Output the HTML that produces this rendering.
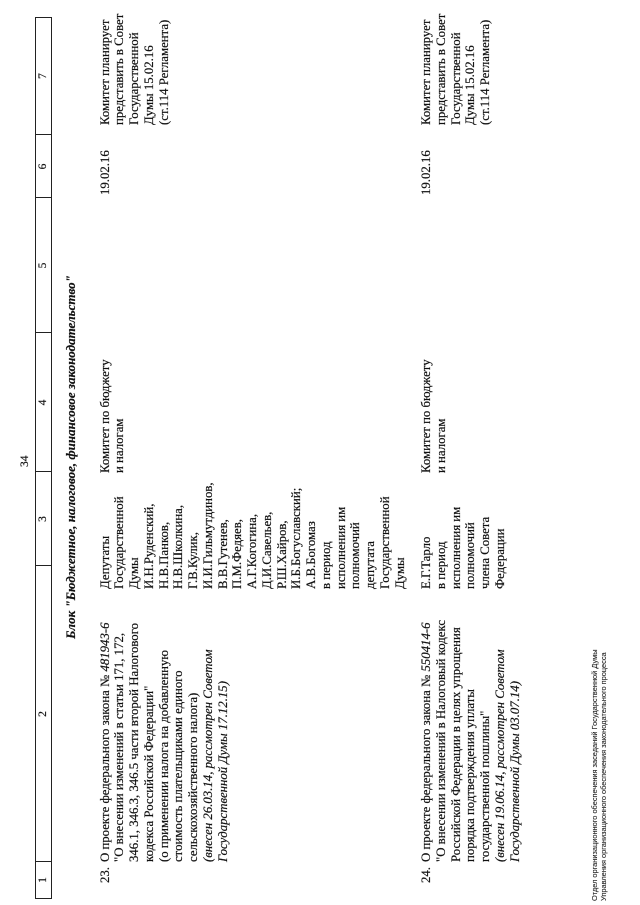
<!DOCTYPE html>
<html><head><meta charset="utf-8">
<style>
html,body{margin:0;padding:0;background:#fff;}
body{width:640px;height:905px;overflow:hidden;position:relative;}
#pg{position:absolute;left:0;top:0;width:905px;height:640px;transform-origin:0 0;transform:translate(0,905px) rotate(-90deg);font-family:"Liberation Serif","DejaVu Serif",serif;font-size:12.8px;line-height:14.75px;color:#111;-webkit-text-stroke:0.2px #111;}
.a{position:absolute;white-space:nowrap;}
.hb{position:absolute;left:6px;top:35px;width:882px;height:17px;border:1px solid #222;box-sizing:border-box;}
.dv{position:absolute;top:0;width:1px;height:15px;background:#222;}
.n{position:absolute;top:0;height:15px;line-height:15px;font-size:11.5px;text-align:center;}
i{font-style:italic}
.ft{position:absolute;left:4px;top:590px;font-family:"Liberation Sans","DejaVu Sans",sans-serif;font-size:7.4px;line-height:9px;white-space:nowrap;color:#222;-webkit-text-stroke:0.1px #222;}
</style></head><body><div id="pg">

<div class="a" style="left:438px;top:17px;font-size:11.5px;line-height:16px;">34</div>

<div class="hb">
  <div class="dv" style="left:36px"></div>
  <div class="dv" style="left:332px"></div>
  <div class="dv" style="left:426px"></div>
  <div class="dv" style="left:565px"></div>
  <div class="dv" style="left:700px"></div>
  <div class="dv" style="left:763px"></div>
  <div class="n" style="left:0;width:36px">1</div>
  <div class="n" style="left:36px;width:296px">2</div>
  <div class="n" style="left:332px;width:94px">3</div>
  <div class="n" style="left:426px;width:139px">4</div>
  <div class="n" style="left:565px;width:135px">5</div>
  <div class="n" style="left:700px;width:63px">6</div>
  <div class="n" style="left:763px;width:118px">7</div>
</div>

<div class="a" style="left:0;width:896px;top:64px;text-align:center;font-weight:bold;font-style:italic;font-size:13px;">Блок "Бюджетное, налоговое, финансовое законодательство"</div>

<!-- Row 23 -->
<div class="a" style="left:22px;top:97.5px;">23.</div>
<div class="a" style="left:43px;top:97.5px;">О проекте федерального закона № <i>481943-6</i><br>"О внесении изменений в статьи 171, 172,<br>346.1, 346.3, 346.5 части второй Налогового<br>кодекса Российской Федерации"<br>(о применении налога на добавленную<br>стоимость плательщиками единого<br>сельскохозяйственного налога)<br><i>(внесен 26.03.14, рассмотрен Советом</i><br><i>Государственной Думы 17.12.15)</i></div>
<div class="a" style="left:316px;top:97.5px;">Депутаты<br>Государственной<br>Думы<br>И.Н.Руденский,<br>Н.В.Панков,<br>Н.В.Школкина,<br>Г.В.Кулик,<br>И.И.Гильмутдинов,<br>В.В.Гутенев,<br>П.М.Федяев,<br>А.Г.Когогина,<br>Д.И.Савельев,<br>Р.Ш.Хайров,<br>И.Б.Богуславский;<br>А.В.Богомаз<br>в период<br>исполнения им<br>полномочий<br>депутата<br>Государственной<br>Думы</div>
<div class="a" style="left:432px;top:97.5px;">Комитет по бюджету<br>и налогам</div>
<div class="a" style="left:710px;top:97.5px;">19.02.16</div>
<div class="a" style="left:780px;top:97.5px;">Комитет планирует<br>представить в Совет<br>Государственной<br>Думы 15.02.16<br>(ст.114 Регламента)</div>

<!-- Row 24 -->
<div class="a" style="left:22px;top:419px;">24.</div>
<div class="a" style="left:43px;top:419px;">О проекте федерального закона № <i>550414-6</i><br>"О внесении изменений в Налоговый кодекс<br>Российской Федерации в целях упрощения<br>порядка подтверждения уплаты<br>государственной пошлины"<br><i>(внесен 19.06.14, рассмотрен Советом</i><br><i>Государственной Думы 03.07.14)</i></div>
<div class="a" style="left:316px;top:419px;">Е.Г.Тарло<br>в период<br>исполнения им<br>полномочий<br>члена Совета<br>Федерации</div>
<div class="a" style="left:432px;top:419px;">Комитет по бюджету<br>и налогам</div>
<div class="a" style="left:710px;top:419px;">19.02.16</div>
<div class="a" style="left:780px;top:419px;">Комитет планирует<br>представить в Совет<br>Государственной<br>Думы 15.02.16<br>(ст.114 Регламента)</div>

<div class="ft">Отдел организационного обеспечения заседаний Государственной Думы<br>Управления организационного обеспечения законодательного процесса</div>

</div></body></html>
